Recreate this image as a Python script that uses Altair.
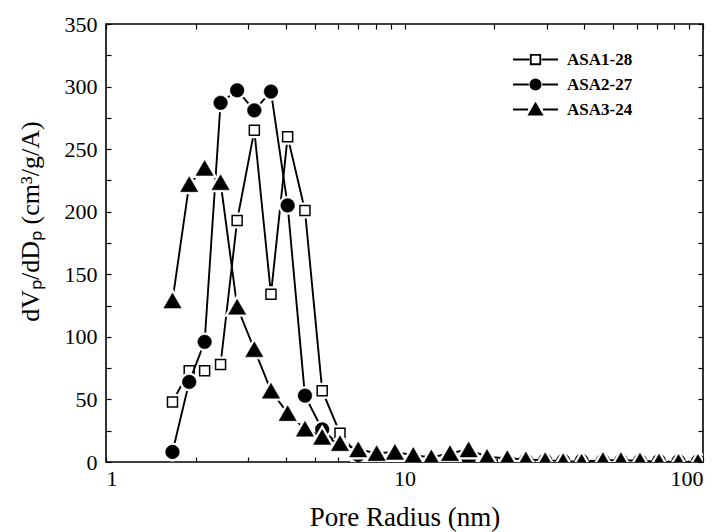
import altair as alt
import pandas as pd

# ---- data ----
radius = [1.67, 1.90, 2.14, 2.42, 2.75, 3.14, 3.57, 4.06, 4.64, 5.30,
          6.08, 7.00, 8.07, 9.29, 10.7, 12.3, 14.2, 16.4, 18.9, 22.1,
          25.5, 29.6, 34.0, 39.2, 46.2, 53.1, 61.5, 71.2, 82.8, 96.2]
asa1 = [48, 73, 73, 78, 193, 265, 134, 260, 201, 57,
        23, 5, 3, 2, 1.5, 1.2, 1, 1, 0.8, 0.6,
        0.5, 0.5, 0.4, 0.4, 0.3, 0.3, 0.3, 0.2, 0.2, 0.2]
asa2 = [8, 64, 96, 287, 297, 281, 296, 205, 53, 26,
        13, 5.6, 3.5, 3, 2.5, 2.2, 2, 2, 1.8, 1.5,
        1.3, 1.2, 1, 1, 0.9, 0.8, 0.8, 0.7, 0.6, 0.5]
asa3 = [129, 222, 235, 223.5, 124, 90, 57, 39, 26.5, 20,
        15, 10, 7, 8, 5.5, 3.6, 7, 10, 4, 3,
        2, 1.4, 0.6, 0.2, 1.4, 1.4, 1, 0.2, 0, 0]
series_names = ["ASA1-28", "ASA2-27", "ASA3-24"]

x_major = [1, 10, 100]
x_ticks = [1, 2, 3, 4, 5, 6, 7, 8, 9, 10, 20, 30, 40, 50, 60, 70, 80, 90, 100]
y_labels = [0, 50, 100, 150, 200, 250, 300, 350]
y_ticks = list(range(0, 351, 25))

rows = []
for name, vals in zip(series_names, [asa1, asa2, asa3]):
    for r, v in zip(radius, vals):
        rows.append({"series": name, "r": r, "v": v})
df = pd.DataFrame(rows)

FONT = "Liberation Serif"
W, H = 597, 438
TICK_COLOR = "black"
TICK_SIZE = 5

xs = alt.Scale(type="log", domain=[1, 100], nice=False)
ys = alt.Scale(domain=[0, 350], nice=False, zero=False)

axes_x = [
    alt.Axis(orient="bottom", values=x_major, format="d", ticks=False, domain=False, grid=False,
             labelFontSize=22, labelPadding=6, labelFont=FONT,
             title="Pore Radius (nm)", titleFontSize=27, titleFont=FONT, titleFontWeight="normal",
             titleBaseline="alphabetic", titleY=63),
    alt.Axis(orient="top", offset=-H, values=x_ticks, labels=False, domain=False, grid=False,
             ticks=True, tickSize=TICK_SIZE, tickWidth=1.2, tickColor=TICK_COLOR, title=None),
    alt.Axis(orient="bottom", offset=-H, values=x_ticks, labels=False, domain=False, grid=False,
             ticks=True, tickSize=TICK_SIZE, tickWidth=1.2, tickColor=TICK_COLOR, title=None),
]
axes_y = [
    alt.Axis(orient="left", values=y_labels, ticks=False, domain=False, grid=False,
             labelFontSize=22, labelPadding=9, labelFont=FONT,
             title="dVₚ/dDₚ (cm³/g/A)", titleFontSize=26, titleFont=FONT, titleFontWeight="normal",
             titleBaseline="alphabetic", titleX=-68, titleY=197, titleAngle=270),
    alt.Axis(orient="right", offset=-W, values=y_ticks, labels=False, domain=False, grid=False,
             ticks=True, tickSize=TICK_SIZE, tickWidth=1.2, tickColor=TICK_COLOR, title=None),
    alt.Axis(orient="left", offset=-W, values=y_ticks, labels=False, domain=False, grid=False,
             ticks=True, tickSize=TICK_SIZE, tickWidth=1.2, tickColor=TICK_COLOR, title=None),
]

marker_specs = {
    "ASA1-28": dict(shape="square", size=100, fill="white", stroke="black", strokeWidth=1.5, halo=6),
    "ASA2-27": dict(shape="circle", size=190, fill="black", stroke="black", strokeWidth=0.5, halo=5),
    "ASA3-24": dict(shape="triangle-up", size=300, fill="black", stroke="black", strokeWidth=0.5, halo=5),
}

layers = []
for i, name in enumerate(series_names):
    sp = marker_specs[name]
    base = alt.Chart(df).transform_filter(alt.datum.series == name)
    line = base.mark_line(color="black", strokeWidth=1.9, clip=True).encode(
        x=alt.X("r:Q", scale=xs, axis=axes_x[i]),
        y=alt.Y("v:Q", scale=ys, axis=axes_y[i]),
    )
    halo = base.mark_point(shape=sp["shape"], size=sp["size"], filled=True, fill="white",
                           stroke="white", strokeWidth=sp["halo"], opacity=1, clip=True).encode(
        x=alt.X("r:Q", scale=xs, axis=None),
        y=alt.Y("v:Q", scale=ys, axis=None),
    )
    pts = base.mark_point(shape=sp["shape"], size=sp["size"], filled=True, fill=sp["fill"],
                          stroke=sp["stroke"], strokeWidth=sp["strokeWidth"], opacity=1, clip=True).encode(
        x=alt.X("r:Q", scale=xs, axis=None),
        y=alt.Y("v:Q", scale=ys, axis=None),
    )
    layers += [line, halo, pts]

legend_paths = [
    "M-1,0H-0.27M0.27,0H1M-0.21,-0.21H0.21V0.21H-0.21Z",
    "M-1,0H-0.3M0.3,0H1M-0.23,0A0.23,0.23,0,1,0,0.23,0A0.23,0.23,0,1,0,-0.23,0Z",
    "M-1,0H-0.33M0.33,0H1M0,-0.27L0.29,0.23H-0.29Z",
]
legend_fills = ["white", "black", "black"]
legend_strokes = ["black", "black", "black"]
leg_df = pd.DataFrame({"series": series_names})
legend_kw = dict(orient="none", legendX=406, legendY=23, title=None, clipHeight=25, rowPadding=0,
                 symbolSize=2025, symbolStrokeWidth=1.8, symbolStrokeColor="black",
                 labelFont=FONT, labelFontSize=17, labelFontWeight="bold", labelColor="black",
                 labelOffset=8, padding=0)
legend_layer = alt.Chart(leg_df).transform_filter("false").mark_point(
    filled=True, strokeWidth=1.8, opacity=1).encode(
    shape=alt.Shape("series:N", scale=alt.Scale(domain=series_names, range=legend_paths),
                    legend=alt.Legend(**legend_kw)),
    fill=alt.Fill("series:N", scale=alt.Scale(domain=series_names, range=legend_fills),
                  legend=alt.Legend(**legend_kw)),
    stroke=alt.Stroke("series:N", scale=alt.Scale(domain=series_names, range=legend_strokes),
                      legend=alt.Legend(**legend_kw)),
)
layers.append(legend_layer)

chart = alt.layer(*layers).resolve_axis(x="independent", y="independent").properties(
    width=W, height=H,
    autosize=alt.AutoSizeParams(type="none"),
    padding={"left": 106, "top": 24, "right": 23, "bottom": 70},
    background="white",
).configure_view(stroke="black", strokeWidth=1.6).configure_axis(
    labelColor="black", titleColor="black", labelFont=FONT, titleFont=FONT
)

chart.save("out.html", embed_options={"renderer": "svg", "actions": False})
